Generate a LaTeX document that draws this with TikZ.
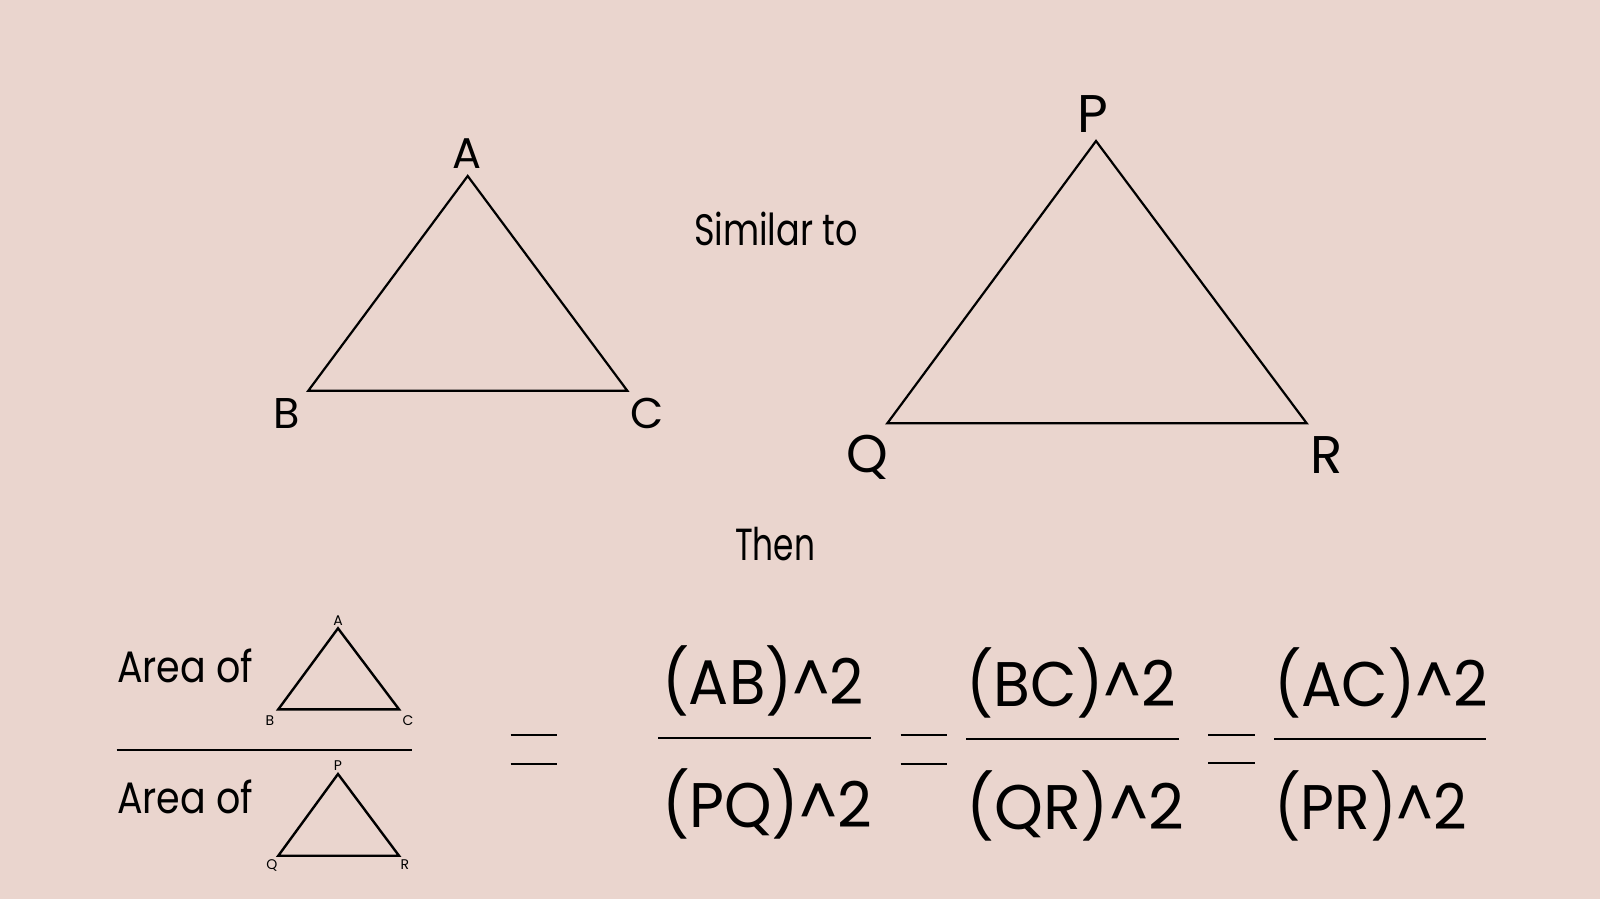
\documentclass[tikz,border=0pt]{standalone}
\usepackage{fontspec}
\setmainfont{Poppins}
\definecolor{bg}{RGB}{234,213,206}
\newcommand{\fitw}[2]{\resizebox{#1}{\height}{#2}}
\newcommand{\fsz}[1]{\fontsize{#1}{#1}\selectfont}
\begin{document}
\begin{tikzpicture}[x=1pt,y=-1pt,
  txt/.style={inner sep=0pt, outer sep=0pt, text=black},
  bigtri/.style={draw=black, line width=2.2pt, line join=miter},
  smalltri/.style={draw=black, line width=2.4pt, line join=miter},
  barline/.style={draw=black, line width=2pt},
  eqbar/.style={draw=black, line width=2.2pt}]
\fill[bg] (0,0) rectangle (1600,899);
\useasboundingbox (0,0) rectangle (1600,899);

% large triangle ABC
\coordinate (A) at (467.7,176);
\coordinate (B) at (308.3,390.7);
\coordinate (C) at (627.3,390.7);
\draw[bigtri] (A) -- (B) -- (C) -- cycle;
\node[txt, anchor=base] (lA) at (467,168) {\fsz{43}A};
\node[txt, anchor=base] (lB) at (287,428) {\fsz{43}B};
\node[txt, anchor=base] (lC) at (647,428) {\fsz{43}C};

% large triangle PQR
\coordinate (P) at (1096,141);
\coordinate (Q) at (887.3,423.3);
\coordinate (R) at (1306.7,423.3);
\draw[bigtri] (P) -- (Q) -- (R) -- cycle;
\node[txt, anchor=base] (lP) at (1093,132) {\fsz{53}P};
\node[txt, anchor=base] (lQ) at (867,472) {\fsz{53}Q};
\node[txt, anchor=base] (lR) at (1327,473) {\fsz{53}R};

\node[txt, anchor=base west] (sim) at (694,245) {\fsz{44}\fitw{164pt}{Similar to}};
\node[txt, anchor=base west] (then) at (735,560) {\fsz{45}\fitw{80pt}{Then}};

% left fraction
\node[txt, anchor=base west] (area1) at (117,682) {\fsz{44}\fitw{136pt}{Area of}};
\node[txt, anchor=base west] (area2) at (117,813) {\fsz{44}\fitw{136pt}{Area of}};
\coordinate (fl1) at (116.7,750);
\coordinate (fr1) at (411.7,750);
\draw[barline] (fl1) -- (fr1);

\coordinate (sA) at (338,628.3);
\coordinate (sB) at (278.3,709.3);
\coordinate (sC) at (399,709.3);
\draw[smalltri] (sA) -- (sB) -- (sC) -- cycle;
\node[txt, anchor=base] (slA) at (338,625) {\fsz{14}A};
\node[txt, anchor=base] (slB) at (270,725) {\fsz{14}B};
\node[txt, anchor=base] (slC) at (408,725) {\fsz{14}C};

\coordinate (sP) at (338,774);
\coordinate (sQ) at (278.3,855.7);
\coordinate (sR) at (399,855.7);
\draw[smalltri] (sP) -- (sQ) -- (sR) -- cycle;
\node[txt, anchor=base] (slP) at (338,770) {\fsz{14}P};
\node[txt, anchor=base] (slQ) at (272,869) {\fsz{14}Q};
\node[txt, anchor=base] (slR) at (405,869) {\fsz{14}R};

% equals signs
\coordinate (e1a) at (510.7,735); \coordinate (e1b) at (557.3,735);
\coordinate (e1c) at (510.7,764); \coordinate (e1d) at (557.3,764);
\draw[eqbar] (e1a) -- (e1b); \draw[eqbar] (e1c) -- (e1d);
\coordinate (e2a) at (900.7,735); \coordinate (e2b) at (947.3,735);
\coordinate (e2c) at (900.7,764); \coordinate (e2d) at (947.3,764);
\draw[eqbar] (e2a) -- (e2b); \draw[eqbar] (e2c) -- (e2d);
\coordinate (e3a) at (1208.3,735); \coordinate (e3b) at (1255.3,735);
\coordinate (e3c) at (1208.3,763); \coordinate (e3d) at (1255.3,763);
\draw[eqbar] (e3a) -- (e3b); \draw[eqbar] (e3c) -- (e3d);

% right fractions
\node[txt, anchor=base west] (n1) at (662,704) {\fsz{63}\fitw{202pt}{(AB)\textasciicircum 2}};
\node[txt, anchor=base west] (d1) at (662,827) {\fsz{63}\fitw{210pt}{(PQ)\textasciicircum 2}};
\coordinate (l1a) at (658,737.5);
\coordinate (l1b) at (871,737.5);
\draw[barline] (l1a) -- (l1b);

\node[txt, anchor=base west] (n2) at (966,706) {\fsz{63}\fitw{210pt}{(BC)\textasciicircum 2}};
\node[txt, anchor=base west] (d2) at (966,829) {\fsz{63}\fitw{218pt}{(QR)\textasciicircum 2}};
\coordinate (l2a) at (966,739);
\coordinate (l2b) at (1179,739);
\draw[barline] (l2a) -- (l2b);

\node[txt, anchor=base west] (n3) at (1274,706) {\fsz{63}\fitw{214pt}{(AC)\textasciicircum 2}};
\node[txt, anchor=base west] (d3) at (1274,829) {\fsz{63}\fitw{193pt}{(PR)\textasciicircum 2}};
\coordinate (l3a) at (1274,739);
\coordinate (l3b) at (1486,739);
\draw[barline] (l3a) -- (l3b);
\end{tikzpicture}
\end{document}
